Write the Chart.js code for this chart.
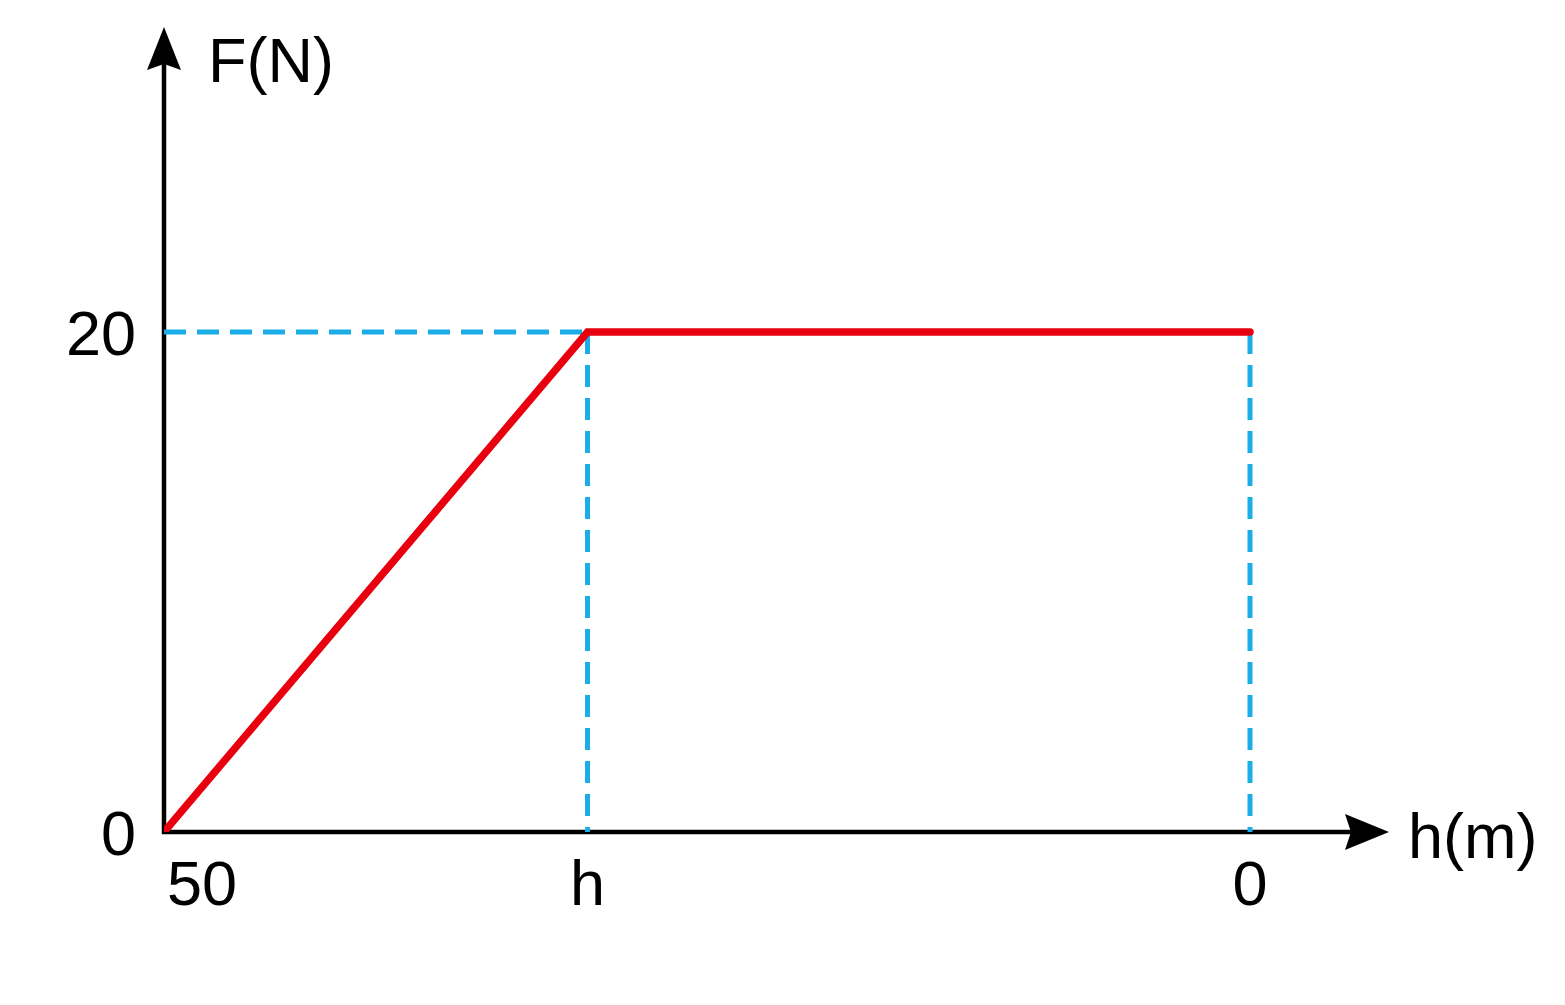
<!DOCTYPE html>
<html>
<head>
  <meta charset="utf-8">
  <script src="https://cdn.jsdelivr.net/npm/chart.js"></script>
  <style>
    html, body {
      margin: 0;
      padding: 0;
      background: #fff;
    }
    .chart-box {
      width: 1565px;
      height: 1005px;
    }
  </style>
</head>
<body>
  <div class="chart-box">
    <canvas id="chartForce"></canvas>
  </div>

  <script>
    // height values (m) and force values (N)
    const heights = [50, 30.5, 0];
    const forces = [0, 20, 20];

    // tick positions and their labels
    const xTickValues = [50, 30.5, 0];
    const xTickLabels = ['50', 'h', '0'];
    const yTickValues = [0, 20];
    const yTickLabels = ['0', '20'];

    const redLine = heights.map((h, i) => ({ x: h, y: forces[i] }));

    // dashed guide lines from the corner points to the axes
    const guideTop = [{ x: heights[0], y: forces[1] }, { x: heights[1], y: forces[1] }];
    const guideH = [{ x: heights[1], y: forces[1] }, { x: heights[1], y: 0 }];
    const guideZero = [{ x: heights[2], y: forces[2] }, { x: heights[2], y: 0 }];

    const FONT = "'Liberation Sans', Arial, sans-serif";

    function arrowHead(ctx, tipX, tipY, dir) {
      ctx.beginPath();
      if (dir === 'up') {
        ctx.moveTo(tipX, tipY);
        ctx.lineTo(tipX - 17, tipY + 43);
        ctx.lineTo(tipX, tipY + 37);
        ctx.lineTo(tipX + 17, tipY + 43);
      } else {
        ctx.moveTo(tipX, tipY);
        ctx.lineTo(tipX - 44, tipY - 18);
        ctx.lineTo(tipX - 38, tipY);
        ctx.lineTo(tipX - 44, tipY + 18);
      }
      ctx.closePath();
      ctx.fill();
    }

    const axesPlugin = {
      id: 'arrowAxes',
      beforeDatasetsDraw(chart) {
        const ctx = chart.ctx;
        const x = chart.scales.x;
        const y = chart.scales.y;
        const x0 = x.getPixelForValue(heights[0]);
        const y0 = y.getPixelForValue(0);
        const top = chart.chartArea.top;
        const right = chart.chartArea.right;

        ctx.save();
        ctx.strokeStyle = '#000';
        ctx.fillStyle = '#000';
        ctx.lineWidth = 4.5;
        ctx.beginPath();
        ctx.moveTo(x0, y0 + 2);
        ctx.lineTo(x0, top + 30);
        ctx.moveTo(x0 - 2, y0);
        ctx.lineTo(right - 30, y0);
        ctx.stroke();
        arrowHead(ctx, x0, top, 'up');
        arrowHead(ctx, right, y0, 'right');
        ctx.restore();
      },
      afterDatasetsDraw(chart) {
        const ctx = chart.ctx;
        const x = chart.scales.x;
        const y = chart.scales.y;
        const x0 = x.getPixelForValue(heights[0]);
        const y0 = y.getPixelForValue(0);

        ctx.save();
        ctx.fillStyle = '#000';
        ctx.font = '63px ' + FONT;
        ctx.textBaseline = 'alphabetic';

        // y tick labels
        ctx.textAlign = 'right';
        yTickValues.forEach((v, i) => {
          ctx.fillText(yTickLabels[i], x0 - 28, y.getPixelForValue(v) + 23);
        });

        // x tick labels (first one starts at the axis)
        xTickValues.forEach((v, i) => {
          ctx.textAlign = i === 0 ? 'left' : 'center';
          const px = x.getPixelForValue(v) + (i === 0 ? 3 : 0);
          ctx.fillText(xTickLabels[i], px, y0 + 73);
        });

        // axis titles
        ctx.textAlign = 'left';
        ctx.fillText('F(N)', x0 + 44, chart.chartArea.top + 55);
        ctx.fillText('h(m)', chart.chartArea.right + 19, y0 + 26);
        ctx.restore();
      }
    };

    const guideStyle = {
      borderColor: '#1aade8',
      borderWidth: 5,
      borderDash: [22, 11],
      pointRadius: 0,
      showLine: true,
      fill: false
    };

    new Chart(document.getElementById('chartForce'), {
      type: 'scatter',
      data: {
        datasets: [
          {
            label: 'F',
            data: redLine,
            borderColor: '#e8000e',
            borderWidth: 7.5,
            borderCapStyle: 'round',
            borderJoinStyle: 'miter',
            pointRadius: 0,
            showLine: true,
            fill: false
          },
          Object.assign({ label: 'guide1', data: guideTop }, guideStyle),
          Object.assign({ label: 'guide2', data: guideH }, guideStyle),
          Object.assign({ label: 'guide3', data: guideZero }, guideStyle)
        ]
      },
      options: {
        responsive: true,
        maintainAspectRatio: false,
        animation: false,
        layout: {
          padding: { left: 164, right: 176, top: 27, bottom: 173 }
        },
        scales: {
          x: {
            type: 'linear',
            display: false,
            reverse: true,
            min: -6.4,
            max: 50
          },
          y: {
            type: 'linear',
            display: false,
            min: 0,
            max: 32.2
          }
        },
        plugins: {
          legend: { display: false },
          tooltip: { enabled: false }
        }
      },
      plugins: [axesPlugin]
    });
  </script>
</body>
</html>
